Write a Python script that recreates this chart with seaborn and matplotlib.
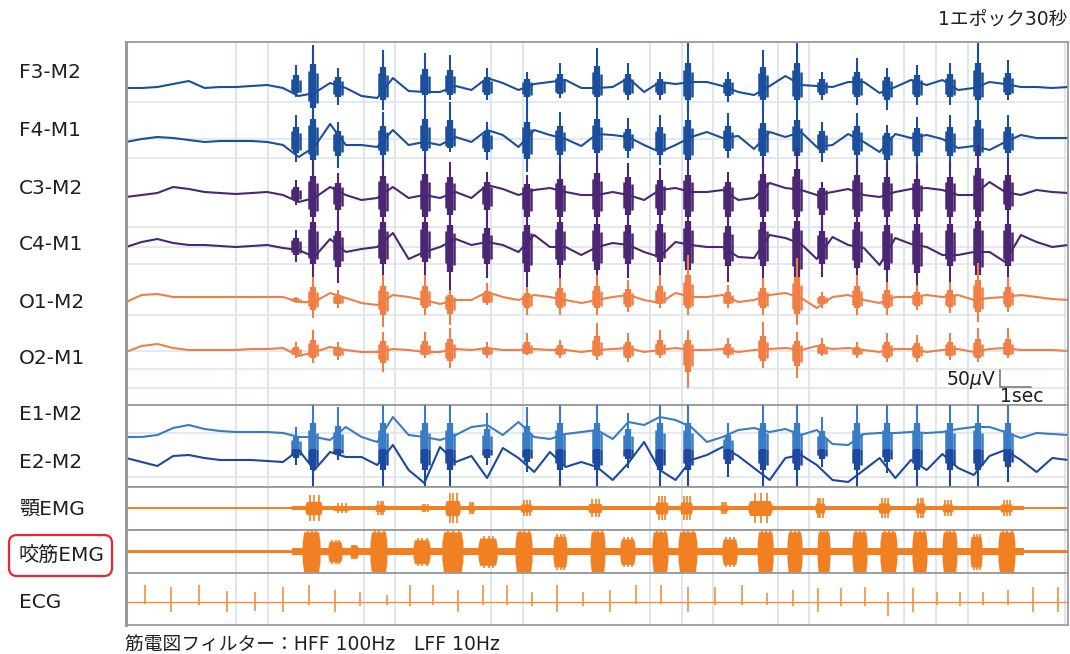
import numpy as np
import pandas as pd
import seaborn as sns
import matplotlib.pyplot as plt
from matplotlib.patches import FancyBboxPatch
from matplotlib.transforms import IdentityTransform

# ------------------------------------------------------------------
# values (30 s, amplitudes in uV)
# ------------------------------------------------------------------
t_base = np.arange(0, 30.01, 0.5)   # slow activity sampled every 0.5 s

f3_base = [0, 0, 3, 12, 21, 0, 3, 3, 6, 9, 0, -24, -15, 15, 0, -24, -30, 30, -9, -12,
           -12, 6, -6, 30, 15, -6, 12, 18, 24, 0, 0, 3, 30, -12, 18, 12, 18, 18, 6, -12,
           -21, 6, 36, 9, 6, 3, 18, 18, -15, 3, 24, 9, 24, -6, 0, 18, 12, 3, 3, 0, 3]
f4_base = [0, 9, 15, 12, 6, 0, 3, 3, 3, 0, -9, -45, -15, 54, -9, -9, -15, 36, -9, 0,
           -9, 15, 0, 36, 21, -15, 36, 21, 9, -12, 24, 21, 15, -9, -30, -9, 15, 30, 12, 18,
           -21, 30, 15, 30, -15, -9, 24, 0, -30, 24, 12, 21, 9, -18, -12, -24, 0, 21, 12, 12, 12]
c3_base = [-6, 0, 6, 24, 18, 9, 6, 3, 6, 9, 0, -21, -9, 24, 0, -15, -9, 24, -9, 0,
           -9, 9, -9, 30, 18, 0, 15, 21, 9, 0, 0, 9, 0, -15, 15, 21, 9, 9, 15, -15,
           -9, 36, 21, 15, 0, 9, 18, 0, -6, 9, 18, 21, 15, 0, 0, 39, 9, 0, 15, 9, 6]
c4_base = [0, 15, 24, 12, 6, 6, 3, 0, 3, 6, -3, -9, -30, 24, -15, -6, 0, 42, -36, -15,
           0, 24, 6, 15, 6, -15, 36, 0, 0, -24, 0, 12, 6, -15, -30, 15, 6, 0, 0, -30,
           -33, 36, 27, 9, -36, 30, 6, -3, -54, 27, 9, 0, -24, -24, -15, -15, -45, 36, 15, 0, 6]
o1_base = [-6, 15, 18, 9, 9, 9, 9, 9, 9, 9, 9, -6, -6, 21, 6, -9, -15, 15, 9, 0,
           -12, 0, 0, 24, 9, 0, 15, 9, 0, -9, 0, 9, 15, 0, -9, 21, 9, 9, 15, -6,
           0, 15, 21, 6, -24, 9, 15, 0, -9, 9, 9, 15, 9, 15, 0, 6, 9, 15, 9, 3, 0]
o2_base = [0, 18, 24, 12, 6, 6, 6, 6, 9, 9, 12, -12, 0, 15, 6, 0, 0, 9, 6, 0,
           0, 9, 6, 12, 6, 6, 9, 6, 6, 0, 6, 9, 12, 0, 6, 12, 6, 6, 9, 0,
           6, 9, 12, 6, 18, 9, 12, 6, 0, 9, 9, 0, 6, 9, 0, 9, 12, 6, 6, 6, 3]
e1_base = [0, 0, 6, 27, 36, 24, 18, 15, 15, 15, 12, 0, 0, -9, 30, 0, -15, 60, 6, 0,
           -9, 6, 30, 36, 6, 45, 0, -6, 9, 15, 21, -6, 45, 36, 60, 51, 30, -15, 0, 21,
           27, 15, 24, 6, 21, -21, -24, 9, 12, 12, 15, 12, 15, 24, 30, 30, 15, -3, 12, 9, 6]
e2_base = [6, -6, -18, 12, 15, 6, 0, 0, 0, -3, -6, 30, -30, 24, 9, 9, -15, 45, -30, -69,
           39, -6, 12, -54, 36, 6, -36, 24, -21, -6, -21, -60, -9, 54, -30, -60, 0, 15, 39, 12,
           -24, -60, 6, 15, -15, -60, -66, -30, 6, -54, 0, -30, 18, -24, -45, 12, 30, 0, -36, 6, 0]

# sharp discharges (rhythmic masticatory artefacts), seconds
spike_t = [5.41, 5.96, 6.75, 8.18, 9.52, 10.32, 11.50, 12.77, 13.82, 15.00, 15.99, 17.01,
           17.90, 19.17, 20.29, 21.37, 22.17, 23.28, 24.24, 25.19, 26.24, 27.13, 28.09]
f3_up = [69, 129, 60, 114, 105, 99, 60, 48, 75, 120, 75, 48, 135, 48, 114, 135, 48, 90, 60, 69, 75, 135, 84]
f3_dn = [27, 111, 51, 66, 36, 36, 36, 51, 30, 51, 36, 36, 66, 42, 66, 66, 36, 51, 66, 51, 51, 66, 36]
f4_up = [81, 126, 60, 90, 126, 120, 60, 111, 90, 126, 72, 81, 120, 87, 102, 120, 60, 87, 51, 75, 81, 120, 81]
f4_dn = [60, 99, 78, 69, 48, 30, 54, 90, 69, 60, 48, 69, 99, 48, 78, 78, 60, 69, 99, 78, 78, 78, 60]
c3_up = [45, 105, 66, 105, 114, 99, 69, 60, 90, 120, 96, 81, 111, 69, 114, 141, 39, 111, 99, 90, 99, 150, 111]
c3_dn = [30, 120, 81, 120, 120, 111, 81, 120, 120, 120, 111, 111, 120, 120, 120, 120, 111, 120, 120, 120, 120, 120, 81]
c4_up = [51, 135, 90, 135, 135, 120, 105, 120, 135, 126, 120, 126, 144, 114, 135, 144, 90, 135, 120, 126, 126, 144, 126]
c4_dn = [45, 93, 108, 93, 84, 135, 93, 135, 99, 123, 93, 84, 123, 105, 105, 165, 90, 114, 123, 144, 105, 153, 105]
o1_up = [9, 69, 30, 75, 75, 30, 51, 39, 66, 75, 60, 75, 135, 45, 66, 126, 24, 75, 54, 45, 54, 111, 69]
o1_dn = [9, 54, 24, 81, 45, 75, 15, 45, 45, 45, 36, 24, 45, 24, 45, 75, 24, 45, 45, 30, 39, 66, 36]
o2_up = [30, 66, 30, 60, 60, 72, 30, 57, 36, 87, 57, 66, 66, 42, 90, 60, 42, 30, 57, 51, 57, 72, 72]
o2_dn = [18, 33, 24, 60, 18, 48, 18, 9, 18, 24, 30, 18, 108, 18, 48, 78, 12, 18, 30, 30, 24, 30, 18]
eog_up = [30, 105, 90, 105, 105, 105, 72, 90, 105, 105, 72, 105, 105, 42, 105, 105, 60, 105, 105, 105, 105, 105, 105]
eog_dn = [15, 84, 0, 84, 84, 84, 15, 36, 84, 84, 24, 84, 84, 51, 84, 84, 21, 84, 39, 84, 84, 84, 66]

# masseter EMG bursts
mass_on = [5.61, 6.43, 7.13, 7.77, 9.14, 10.06, 11.21, 12.39, 13.60, 14.78, 15.73, 16.75,
           17.58, 18.98, 20.10, 21.05, 22.01, 23.12, 24.01, 25.03, 25.99, 26.88, 27.77]
mass_off = [6.18, 6.88, 7.39, 8.31, 9.68, 10.73, 11.82, 12.93, 14.04, 15.25, 16.21, 17.26,
            18.18, 19.46, 20.61, 21.53, 22.42, 23.60, 24.55, 25.51, 26.46, 27.26, 28.31]
mass_amp = [70, 36, 21, 70, 42, 70, 48, 70, 54, 70, 45, 70, 70, 45, 70, 70, 70, 70, 70, 70, 70, 54, 70]
# chin EMG bursts
chin_on = [5.70, 6.59, 7.93, 9.36, 10.16, 10.89, 12.55, 14.71, 16.85, 17.64, 18.92, 19.81,
           21.94, 23.95, 25.13, 25.99, 27.83]
chin_off = [6.24, 7.13, 8.25, 9.68, 10.64, 11.11, 12.93, 15.16, 17.26, 18.03, 19.17, 20.57,
            22.26, 24.33, 25.45, 26.34, 28.22]
chin_amp = [40, 15, 21, 12, 45, 18, 24, 27, 36, 36, 18, 45, 30, 30, 30, 24, 24]
# tonic EMG level between bursts
tonic_t = [0, 5.3, 28.6, 30]
chin_tonic = [3.5, 6, 3.5, 3.5]
mass_tonic = [3.5, 10, 4, 4]

# ECG R waves
r_t = [0.61, 1.43, 2.32, 3.22, 4.11, 5.00, 5.83, 6.66, 7.45, 8.31, 9.04, 9.78, 10.57,
       11.37, 12.13, 12.93, 13.73, 14.55, 15.41, 16.24, 17.04, 17.90, 18.76, 19.62, 20.41,
       21.24, 22.04, 22.77, 23.54, 24.27, 25.06, 25.83, 26.56, 27.29, 28.09, 28.89, 29.68]
r_amp = [51, 45, 51, 33, 30, 45, 51, 36, 30, 21, 51, 51, 36, 51, 51, 30, 51, 30,
         36, 51, 51, 45, 45, 51, 27, 36, 42, 42, 45, 30, 42, 30, 30, 30, 36, 45, 45]
s_amp = [6, 30, 9, 30, 27, 30, 9, 30, 12, 9, 12, 9, 30, 9, 9, 12, 30, 12,
         30, 6, 6, 30, 9, 9, 9, 12, 30, 12, 12, 42, 30, 9, 12, 9, 9, 30, 30]

grid_t = [3.50, 4.52, 7.58, 8.57, 11.62, 12.64, 16.69, 17.71, 18.69, 20.76, 21.75,
          24.78, 25.80, 26.82, 29.90]

# ------------------------------------------------------------------
W, H = 1070, 654
X0, X1 = 126, 1068
UV_PX = 3.0   # display gain: uV per pixel

BLUE, PURPLE, SALMON = '#1b4f9c', '#4b2673', '#f07f45'
E1_COL, E2_COL = '#3a7cc3', '#1c489e'
EMG_COL, ECG_COL = '#f08022', '#f29040'
GRID, BORDER, TXT = '#dfe5ee', '#9a9a9a', '#231f20'

sns.set_theme(style='white')
plt.rcParams['font.family'] = ['DejaVu Sans', 'Noto Sans CJK JP']

fig = plt.figure(figsize=(W / 100, H / 100), dpi=100)
fig.patch.set_facecolor('white')


def panel(top, bottom):
    ax = fig.add_axes([X0 / W, 1 - bottom / H, (X1 - X0) / W, (bottom - top) / H])
    ax.set_xlim(0, 30)
    ax.set_ylim(-(bottom - top) * UV_PX, 0)
    ax.set_xticks([])
    ax.set_yticks([])
    ax.set_facecolor('white')
    for s in ax.spines.values():
        s.set_color(BORDER)
        s.set_linewidth(1.3)
    ax.spines['left'].set_linewidth(2.2)
    for g in grid_t:
        ax.axvline(g, color=GRID, lw=1.4, zorder=0)
    return ax


def spikes(ax, t, lo, hi, centre, color):
    # one discharge = thin full stroke + dense core + two flanking strokes
    t, lo, hi = np.asarray(t), np.asarray(lo), np.asarray(hi)
    ax.vlines(t, centre - lo, centre + hi, color=color, lw=1.5, zorder=3)
    ax.vlines(t, centre - 0.55 * lo, centre + 0.55 * hi, color=color, lw=4.5, zorder=3)
    ax.vlines(t - 0.12, centre - 0.35 * lo, centre + 0.4 * hi, color=color, lw=1.8, zorder=3)
    ax.vlines(t + 0.12, centre - 0.4 * lo, centre + 0.35 * hi, color=color, lw=1.8, zorder=3)


def burst(ax, on, off, amp, centre, color, core=0.85):
    for s, e, a in zip(on, off, amp):
        w = e - s
        xs = [s, s + 0.08 * w, e - 0.08 * w, e]
        hi = [centre + 0.45 * core * a, centre + core * a, centre + core * a, centre + 0.45 * core * a]
        lo = [centre - 0.45 * core * a, centre - core * a, centre - core * a, centre - 0.45 * core * a]
        ax.fill_between(xs, lo, hi, color=color, lw=0, zorder=3)
        ax.vlines([s + 0.3 * w, s + 0.55 * w, s + 0.8 * w], centre - a, centre + a,
                  color=color, lw=1.2, zorder=3)


# ---------------- EEG ----------------
ax_eeg = panel(42, 405)
eeg_names = ['F3-M2', 'F4-M1', 'C3-M2', 'C4-M1', 'O1-M2', 'O2-M1']
eeg_off = {'F3-M2': -138, 'F4-M1': -300, 'C3-M2': -459, 'C4-M1': -615, 'O1-M2': -774, 'O2-M1': -930}
eeg_col = {'F3-M2': BLUE, 'F4-M1': BLUE, 'C3-M2': PURPLE, 'C4-M1': PURPLE, 'O1-M2': SALMON, 'O2-M1': SALMON}
eeg_vals = [f3_base, f4_base, c3_base, c4_base, o1_base, o2_base]
eeg_up = [f3_up, f4_up, c3_up, c4_up, o1_up, o2_up]
eeg_dn = [f3_dn, f4_dn, c3_dn, c4_dn, o1_dn, o2_dn]

for y in [-180, -291, -348, -555, -615, -666, -819, -927, -981, -1038]:
    ax_eeg.axhline(y, color=GRID, lw=1.2, zorder=0)

eeg = pd.DataFrame({
    't': np.tile(t_base, len(eeg_names)),
    'uv': np.concatenate(eeg_vals),
    'ch': np.repeat(eeg_names, len(t_base)),
})
eeg['y'] = eeg['ch'].map(eeg_off) + eeg['uv']
sns.lineplot(data=eeg, x='t', y='y', hue='ch', palette=eeg_col, estimator=None,
             legend=False, lw=1.5, ax=ax_eeg, zorder=2)
for name, up, dn in zip(eeg_names, eeg_up, eeg_dn):
    spikes(ax_eeg, spike_t, dn, up, eeg_off[name], eeg_col[name])
ax_eeg.set_xlabel('')
ax_eeg.set_ylabel('')

# scale bar 50 uV / 1 s
sb_t, sb_y = 27.83, -1035
ax_eeg.plot([sb_t, sb_t, sb_t + 1], [sb_y + 50, sb_y, sb_y], color='#7a7a7a', lw=1.2, zorder=4)
ax_eeg.text(sb_t - 0.1, sb_y + 22, '50$\\mu$V', ha='right', va='center', fontsize=13.5, color=TXT)
ax_eeg.text(sb_t + 0.02, sb_y - 27, '1sec', ha='left', va='center', fontsize=13.5, color=TXT)

# ---------------- EOG ----------------
ax_eog = panel(405, 487)
e1_c, e2_c, e_mid = -96, -165, -132
for y in [-84, -216]:
    ax_eog.axhline(y, color=GRID, lw=1.2, zorder=0)
eog = pd.DataFrame({
    't': np.tile(t_base, 2),
    'uv': np.concatenate([e1_base, e2_base]),
    'ch': np.repeat(['E1-M2', 'E2-M2'], len(t_base)),
})
eog['y'] = eog['ch'].map({'E1-M2': e1_c, 'E2-M2': e2_c}) + eog['uv']
sns.lineplot(data=eog, x='t', y='y', hue='ch', palette={'E1-M2': E1_COL, 'E2-M2': E2_COL},
             estimator=None, legend=False, lw=1.5, ax=ax_eog, zorder=2)
zero = np.zeros(len(spike_t))
spikes(ax_eog, spike_t, zero, np.array(eog_up) + (e1_c - e_mid), e_mid, E1_COL)
spikes(ax_eog, spike_t, np.array(eog_dn) + (e_mid - e2_c), zero, e_mid, E2_COL)
ax_eog.set_xlabel('')
ax_eog.set_ylabel('')

# ---------------- chin EMG ----------------
ax_chin = panel(487, 530)
chin_c = -63
ax_chin.fill_between(tonic_t, chin_c - np.array(chin_tonic), chin_c + np.array(chin_tonic),
                     step='post', color=EMG_COL, lw=0, zorder=2)
burst(ax_chin, chin_on, chin_off, chin_amp, chin_c, EMG_COL, core=0.5)

# ---------------- masseter EMG ----------------
ax_mass = panel(530, 573)
mass_c = -65
ax_mass.fill_between(tonic_t, mass_c - np.array(mass_tonic), mass_c + np.array(mass_tonic),
                     step='post', color=EMG_COL, lw=0, zorder=2)
burst(ax_mass, mass_on, mass_off, mass_amp, mass_c, EMG_COL)

# ---------------- ECG ----------------
ax_ecg = panel(573, 625)
ecg_c = -87
ax_ecg.axhline(ecg_c, color=ECG_COL, lw=1.0, zorder=2)
ax_ecg.vlines(r_t, ecg_c, ecg_c + np.array(r_amp), color=ECG_COL, lw=1.2, zorder=3)
ax_ecg.vlines(r_t, ecg_c - np.array(s_amp), ecg_c, color=ECG_COL, lw=1.2, zorder=3)

# ---------------- texts ----------------
labels = ['F3-M2', 'F4-M1', 'C3-M2', 'C4-M1', 'O1-M2', 'O2-M1',
          'E1-M2', 'E2-M2', '顎EMG', '咬筋EMG', 'ECG']
label_y = [72, 130, 188, 245, 302, 358, 414, 462, 509, 556, 603]
for lab, y in zip(labels, label_y):
    fig.text(19 / W, 1 - y / H, lab, ha='left', va='center', fontsize=14.5, color=TXT)

fig.add_artist(FancyBboxPatch((9, H - 576), 103, 41,
                              boxstyle='round,pad=0,rounding_size=8',
                              transform=IdentityTransform(), fill=False,
                              edgecolor='#e8282e', lw=1.6))

fig.text(1067 / W, 1 - 20 / H, '1エポック30秒', ha='right', va='center',
         fontsize=13.5, color=TXT)
fig.text(125 / W, 1 - 644 / H, '筋電図フィルター：HFF 100Hz\u3000LFF 10Hz', ha='left',
         va='center', fontsize=13.5, color=TXT)

fig.savefig('out.png', dpi=100, facecolor='white')
